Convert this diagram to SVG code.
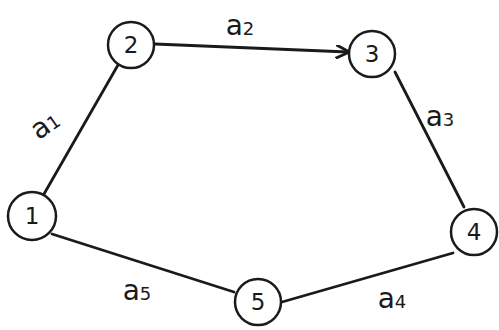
<svg xmlns="http://www.w3.org/2000/svg" width="499" height="330" viewBox="0 0 499 330">
<style>
.n{fill:none;stroke:#1a1a1a;stroke-width:2.5}
.t{font-family:"DejaVu Sans",sans-serif;font-size:23px;fill:#1a1a1a;text-anchor:middle;dominant-baseline:central}
.e{stroke:#1a1a1a;stroke-width:2.8;fill:none;stroke-linecap:round}
.l{font-family:"DejaVu Sans",sans-serif;font-size:28px;fill:#1a1a1a;text-anchor:middle}
.s{font-size:18px}
</style>
<defs>
<marker id="arr" viewBox="0 0 10 10" refX="9" refY="5" markerWidth="5" markerHeight="5" orient="auto">
<path d="M0,0 L10,5 L0,10" fill="none" stroke="#1a1a1a" stroke-width="2"/>
</marker>
</defs>
<rect width="499" height="330" fill="#ffffff"/>
<g id="edges">
<line class="e" x1="44" y1="194" x2="118" y2="65"/>
<line class="e" x1="155" y1="44" x2="348" y2="52" marker-end="url(#arr)"/>
<line class="e" x1="395" y1="72" x2="464" y2="207"/>
<line class="e" x1="453" y1="253" x2="282" y2="302"/>
<line class="e" x1="52" y1="234" x2="234" y2="292"/>
<text class="l" x="240" y="35">a<tspan class="s">2</tspan></text>
<text class="l" x="45" y="134" transform="rotate(-35 45 125)">a<tspan class="s">1</tspan></text>
<text class="l" x="440" y="126">a<tspan class="s">3</tspan></text>
<text class="l" x="392" y="308">a<tspan class="s">4</tspan></text>
<text class="l" x="137" y="300">a<tspan class="s">5</tspan></text>
</g>
<g id="node1"><circle class="n" cx="32" cy="216" r="24"/><text class="t" x="32" y="216">1</text></g>
<g id="node2"><circle class="n" cx="131" cy="45" r="23"/><text class="t" x="131" y="45">2</text></g>
<g id="node3"><circle class="n" cx="372" cy="54" r="23"/><text class="t" x="372" y="54">3</text></g>
<g id="node4"><circle class="n" cx="474" cy="232" r="23"/><text class="t" x="474" y="232">4</text></g>
<g id="node5"><circle class="n" cx="258" cy="302" r="23"/><text class="t" x="258" y="302">5</text></g>
</svg>
